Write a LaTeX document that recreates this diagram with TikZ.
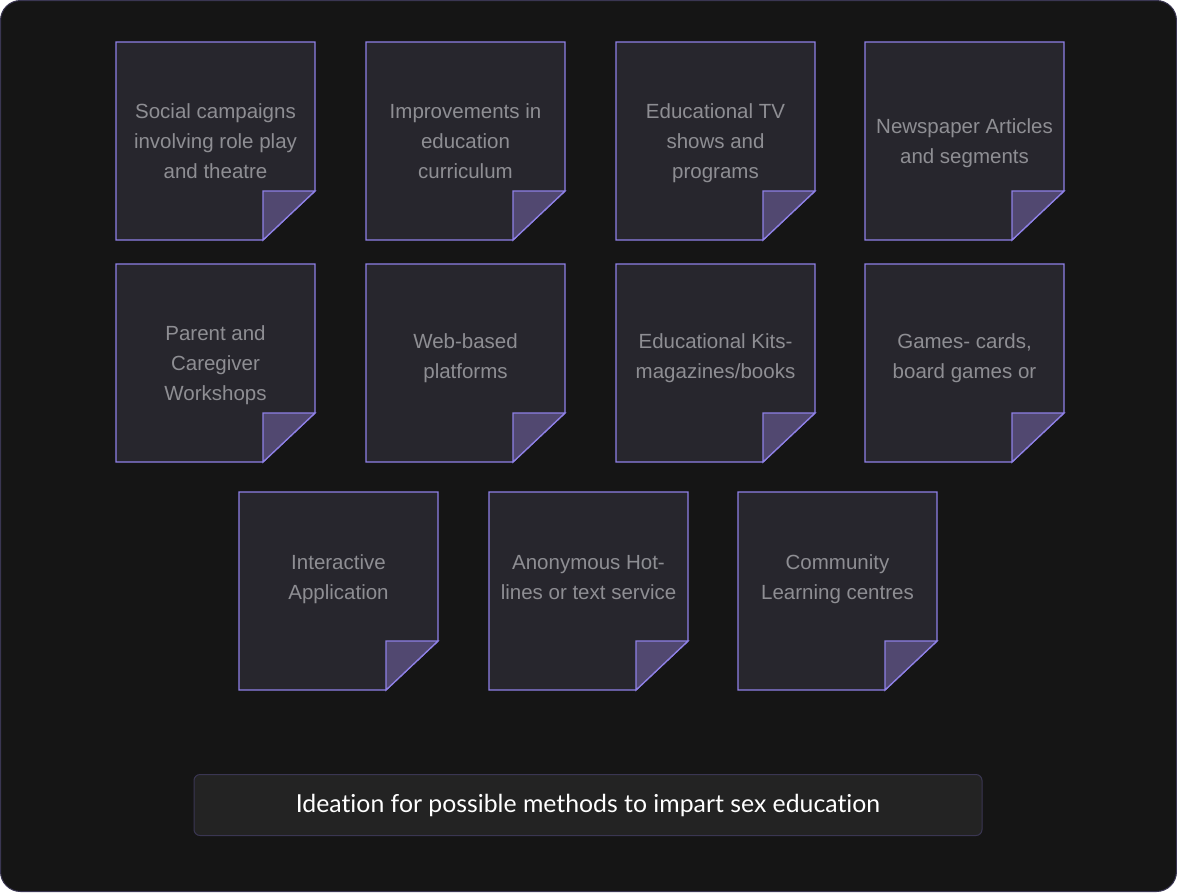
\documentclass[tikz,border=0pt]{standalone}
\usepackage{fontspec}
\setmainfont{Liberation Sans}
\newfontfamily\capfont[Ligatures=NoCommon]{Lato}
\definecolor{bgc}{HTML}{151515}
\definecolor{bgline}{HTML}{3A3652}
\definecolor{notefill}{HTML}{27262D}
\definecolor{noteline}{HTML}{8E80E6}
\definecolor{foldfill}{HTML}{514870}
\definecolor{notetextc}{HTML}{8E8E93}
\definecolor{capfill}{HTML}{232323}
\tikzset{
  notebody/.style={fill=notefill, draw=noteline, line width=1.3pt, line join=miter},
  notefold/.style={fill=foldfill, draw=noteline, line width=1.3pt},
  notetext/.style={text=notetextc, align=center, font=\fontsize{20.5}{30}\selectfont, inner sep=0pt},
  capbox/.style={fill=capfill, draw=bgline, line width=1pt, rounded corners=6pt, minimum width=788pt, minimum height=61pt, text=white, font=\capfont\fontsize{24.8}{28}\selectfont}
}
\newcommand\stickynote[5]{%
  \path[notebody] (#2,#3) -- ++(199,0) -- ++(0,149) -- ++(-52,49) -- ++(-147,0) -- cycle;
  \path[notefold] (#2+147,#3+149) -- ++(52,0) -- ++(-52,49) -- cycle;
  \node[notetext] (#1) at (#2+99.5,#3+#4) {\strut #5\strut};
}
\begin{document}
\begin{tikzpicture}[x=1pt,y=-1pt]
\useasboundingbox (0,0) rectangle (1177,892);
\path[fill=bgc, draw=bgline, line width=1pt, rounded corners=20pt] (0.5,0.5) rectangle (1176.5,891.5);
% row 1
\stickynote{n1}{116}{42}{100}{Social campaigns\\involving role play\\and theatre}
\stickynote{n2}{366}{42}{100}{Improvements in\\education\\curriculum}
\stickynote{n3}{616}{42}{100}{Educational TV\\shows and\\programs}
\stickynote{n4}{865}{42}{100}{Newspaper Articles\\and segments}
% row 2
\stickynote{n5}{116}{264}{100}{Parent and\\Caregiver\\Workshops}
\stickynote{n6}{366}{264}{93}{Web-based\\platforms}
\stickynote{n7}{616}{264}{93}{Educational Kits-\\magazines/books}
\stickynote{n8}{865}{264}{93}{Games- cards,\\board games or}
% row 3
\stickynote{n9}{239}{492}{86}{Interactive\\Application}
\stickynote{n10}{489}{492}{86}{Anonymous Hot-\\lines or text service}
\stickynote{n11}{738}{492}{86}{Community\\Learning centres}
\node[capbox] (cap) at (588,805) {Ideation for possible methods to impart sex education};
\end{tikzpicture}
\end{document}
